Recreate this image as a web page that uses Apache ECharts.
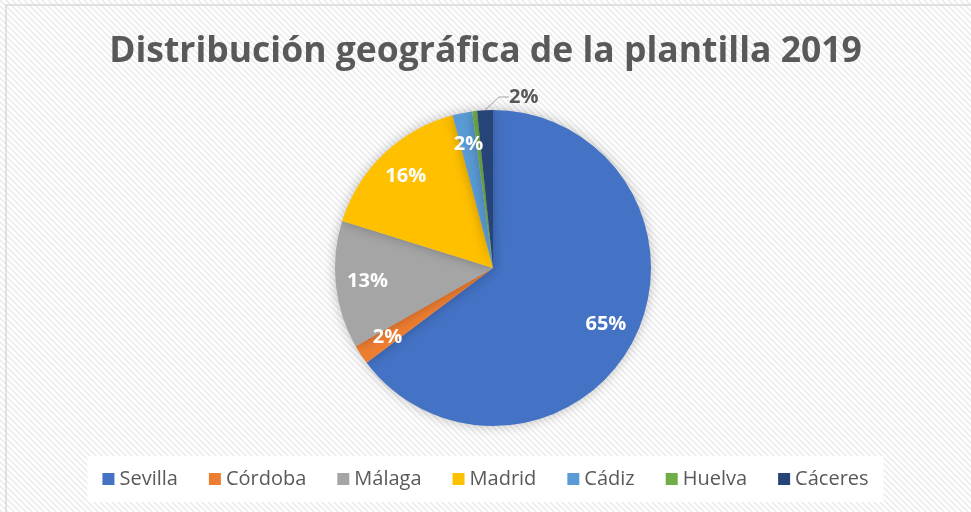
<!DOCTYPE html>
<html>
<head>
<meta charset="utf-8">
<script src="https://cdn.jsdelivr.net/npm/echarts@6/dist/echarts.min.js"></script>
<style>
  html, body { margin: 0; padding: 0; background: #fff; }
  #chart { width: 971px; height: 512px; }
</style>
</head>
<body>
<div id="chart"></div>
<script>
const provincias = ['Sevilla', 'Córdoba', 'Málaga', 'Madrid', 'Cádiz', 'Huelva', 'Cáceres'];
const porcentajes = [64.5, 2.0, 13.0, 16.0, 2.0, 0.5, 1.6];
const colores = ['#4472C4', '#ED7D31', '#A5A5A5', '#FFC000', '#5B9BD5', '#70AD47', '#264478'];
const titulo = 'Distribución geográfica de la plantilla 2019';

document.addEventListener('DOMContentLoaded', function() {
    const el = document.getElementById('chart');
    const chart = echarts.init(el);

    // diagonal hatch background
    const pat = document.createElement('canvas');
    pat.width = 6; pat.height = 6;
    const ctx = pat.getContext('2d');
    ctx.fillStyle = '#ffffff';
    ctx.fillRect(0, 0, 6, 6);
    ctx.strokeStyle = '#ececec';
    ctx.lineWidth = 1.6;
    ctx.beginPath();
    ctx.moveTo(-1, -1); ctx.lineTo(7, 7);
    ctx.moveTo(-4, 2); ctx.lineTo(4, 10);
    ctx.moveTo(2, -4); ctx.lineTo(10, 4);
    ctx.stroke();

    const center = [493, 268];
    const radius = 158;
    const pct = p => Math.round(p.percent) + '%';

    const data = provincias.map((name, i) => ({
        name: name,
        value: porcentajes[i],
        itemStyle: { color: colores[i] }
    }));

    const option = {
        backgroundColor: { image: pat, repeat: 'repeat' },
        animation: false,
        title: {
            text: titulo,
            left: 'center',
            top: 29,
            textStyle: { fontFamily: 'Open Sans', fontWeight: 'bold', fontSize: 35.5, color: '#595959' }
        },
        legend: {
            bottom: 10,
            left: 'center',
            itemWidth: 12,
            itemHeight: 12,
            itemGap: 31,
            icon: 'rect',
            backgroundColor: '#ffffff',
            padding: [13, 15, 13, 15],
            textStyle: { fontFamily: 'Open Sans', fontSize: 20, color: '#595959' },
            data: provincias
        },
        graphic: [{
            type: 'rect',
            shape: { x: 6, y: 5, width: 980, height: 520 },
            style: { fill: 'none', stroke: '#d9d9d9', lineWidth: 1.5 },
            silent: true
        }],
        series: [{
            type: 'pie',
            center: center,
            radius: [0, radius],
            startAngle: 90,
            clockwise: true,
            itemStyle: { shadowBlur: 12, shadowColor: 'rgba(0,0,0,0.25)' },
            label: { show: false },
            labelLine: { show: false },
            labelLayout: function(params) {
                if (params.seriesIndex === 0 && params.dataIndex === 6) {
                    return { x: center[0] + 16, y: center[1] - radius - 13, align: 'left', verticalAlign: 'middle' };
                }
            },
            data: data.map((d, i) => i === 6 ? Object.assign({}, d, {
                label: {
                    show: true, position: 'outside', formatter: pct,
                    fontFamily: 'Open Sans', fontWeight: 'bold', fontSize: 20, color: '#595959'
                },
                labelLine: { show: true, length: 8, length2: 10, lineStyle: { color: '#a6a6a6', width: 1 } }
            }) : d)
        }, {
            // transparent overlay used only to put the inside labels at ~0.78 r
            type: 'pie',
            center: center,
            radius: [radius * 0.56, radius],
            startAngle: 90,
            clockwise: true,
            silent: true,
            itemStyle: { color: 'rgba(0,0,0,0)' },
            label: {
                show: true, position: 'inside', formatter: pct,
                fontFamily: 'Open Sans', fontWeight: 'bold', fontSize: 20, color: '#ffffff'
            },
            labelLine: { show: false },
            data: data.map((d, i) => ({
                name: d.name, value: d.value,
                itemStyle: { color: 'rgba(0,0,0,0)' },
                label: { show: i !== 5 && i !== 6 }
            }))
        }]
    };
    chart.setOption(option);
});
</script>
</body>
</html>
